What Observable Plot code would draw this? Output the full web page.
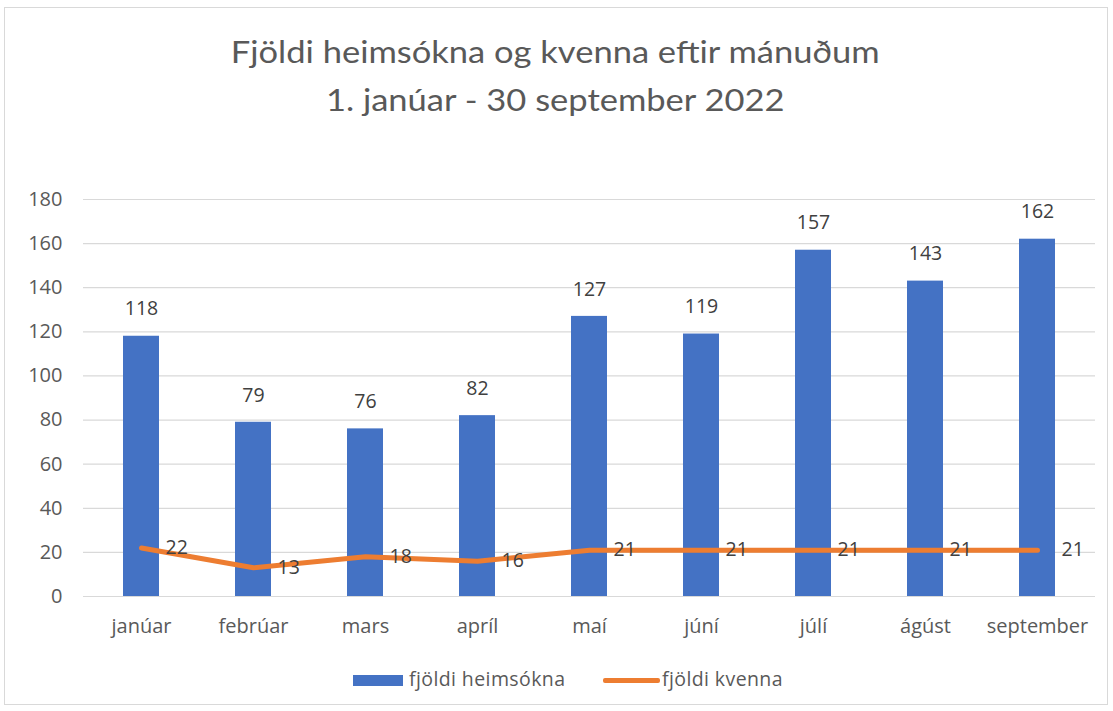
<!DOCTYPE html>
<html><head><meta charset="utf-8">
<script src="https://cdn.jsdelivr.net/npm/d3@7"></script>
<script src="https://cdn.jsdelivr.net/npm/@observablehq/plot@0.6"></script>
<style>
body{margin:0;background:#fff;font-family:"Open Sans",sans-serif;}
#wrap{position:relative;width:1113px;height:711px;overflow:hidden;}
#frame{position:absolute;left:4px;top:7px;width:1104px;height:698px;border:1px solid #d9d9d9;box-sizing:border-box;}
.title{position:absolute;left:0;width:1113px;text-align:center;color:#595959;font-size:30px;font-weight:400;font-family:Lato,sans-serif;transform:scaleX(1.15);transform-origin:565px 0;}
#legend{position:absolute;top:666px;left:0;width:1113px;font-size:19.5px;letter-spacing:0.4px;color:#595959;font-family:"Open Sans",sans-serif;}
#legend span{position:absolute;}
#chart{position:absolute;left:0;top:0;}
</style></head>
<body>
<div id="wrap">
<div id="frame"></div>
<div class="title" style="top:33px">Fjöldi heimsókna og kvenna eftir mánuðum</div>
<div class="title" style="top:81px">1. janúar - 30 september 2022</div>
<div id="chart"></div>
<div id="legend">
<span style="left:353px;top:9px;width:50px;height:11px;background:#4472C4"></span>
<span style="left:409px;top:-1px">fjöldi heimsókna</span>
<span style="left:603px;top:12px;width:57px;height:5px;background:#ED7D31;border-radius:2px"></span>
<span style="left:662px;top:-1px">fjöldi kvenna</span>
</div>
</div>
<script>
const months = ["janúar","febrúar","mars","apríl","maí","júní","júlí","ágúst","september"];
const visits = [118,79,76,82,127,119,157,143,162];
const women = [22,13,18,16,21,21,21,21,21];
const yTicks = [0,20,40,60,80,100,120,140,160,180];

const data = months.map((m,i)=>({month:m, visits:visits[i], women:women[i]}));

const chart = Plot.plot({
  width:1113, height:711,
  marginTop:199, marginBottom:115, marginLeft:83, marginRight:18,
  style:{fontFamily:"'Open Sans', sans-serif", fontSize:"20px", color:"#595959", background:"transparent"},
  x:{domain:months, paddingInner:0.68, paddingOuter:0.34, label:null, tickSize:0, tickPadding:22},
  y:{domain:[0,180], ticks:yTicks, label:null, tickSize:0, tickPadding:21},
  marks:[
    Plot.gridY(yTicks,{stroke:"#d9d9d9", strokeOpacity:1, strokeWidth:1.2}),
    Plot.barY(data,{x:"month", y:"visits", fill:"#4472C4"}),
    Plot.text(data,{x:"month", y:"visits", text:d=>String(d.visits), dy:-27, fill:"#404040", fontSize:19.5}),
    Plot.line(data,{x:"month", y:"women", stroke:"#ED7D31", strokeWidth:5, strokeLinejoin:"round", strokeLinecap:"round"}),
    Plot.text(data,{x:"month", y:"women", text:d=>String(d.women), dx:24, textAnchor:"start", fill:"#404040", fontSize:19.5})
  ]
});
document.getElementById("chart").append(chart);
</script>
</body></html>
